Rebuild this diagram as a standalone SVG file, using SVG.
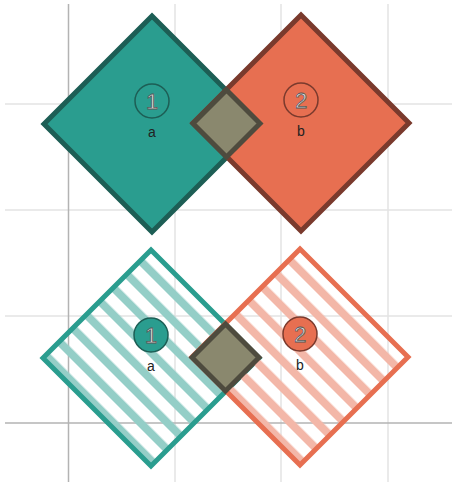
<svg xmlns="http://www.w3.org/2000/svg" width="452" height="482" viewBox="0 0 452 482">
<style>
.grid{stroke:#e3e3e3;stroke-width:1.5;fill:none}
.axis{stroke:#b3b3b3;stroke-width:1.5;fill:none}
.num{font-family:"Liberation Sans",Arial,sans-serif;font-size:22px;fill:#e6e6e6;stroke:#555;stroke-width:0.8;text-anchor:middle}
.lbl{font-family:"Liberation Sans",Arial,sans-serif;font-size:14px;fill:#222;text-anchor:middle}
.ov{fill:#8a886e;stroke:#4e4b3e;stroke-width:5;stroke-linejoin:miter}
</style>
<defs>
<pattern id="stripeA" patternUnits="userSpaceOnUse" width="19.09" height="19.09" y="222.74" patternTransform="rotate(45)">
<rect x="0" y="11.09" width="19.09" height="8" fill="#94cec7"/>
</pattern>
<pattern id="stripeB" patternUnits="userSpaceOnUse" width="19.09" height="19.09" y="116.67" patternTransform="rotate(45)">
<rect x="0" y="11.09" width="19.09" height="8" fill="#f3b7a8"/>
</pattern>
</defs>
<rect width="452" height="482" fill="#ffffff"/>
<g id="grid">
<line class="grid" x1="175" y1="4" x2="175" y2="482"/>
<line class="grid" x1="281" y1="4" x2="281" y2="482"/>
<line class="grid" x1="388" y1="4" x2="388" y2="482"/>
<line class="grid" x1="5" y1="104" x2="452" y2="104"/>
<line class="grid" x1="5" y1="210" x2="452" y2="210"/>
<line class="grid" x1="5" y1="316" x2="452" y2="316"/>
<line class="axis" x1="68.5" y1="4" x2="68.5" y2="482"/>
<line class="axis" x1="5" y1="423" x2="452" y2="423"/>
</g>
<g id="top-a">
<polygon points="152,16 260,124 152,232 44,124" fill="#2a9d8f" stroke="#1d5e55" stroke-width="5"/>
</g>
<g id="top-b">
<polygon points="301,15 409,123 301,231 193,123" fill="#e76f51" stroke="#7a3a2d" stroke-width="5"/>
</g>
<g id="top-overlap">
<polygon class="ov" points="226.5,90 260,123.5 226.5,157 193,123.5"/>
</g>
<g id="top-a-label">
<circle cx="152" cy="101" r="17" fill="none" stroke="#1d5e55" stroke-width="1.5"/>
<text class="num" x="152" y="109">1</text>
<text class="lbl" x="152" y="137">a</text>
</g>
<g id="top-b-label">
<circle cx="301" cy="100" r="17" fill="none" stroke="#7a3a2d" stroke-width="1.5"/>
<text class="num" x="301" y="108">2</text>
<text class="lbl" x="301" y="136">b</text>
</g>
<g id="bottom-a">
<polygon points="151,250 259,358 151,466 43,358" fill="url(#stripeA)" stroke="#2a9d8f" stroke-width="5"/>
</g>
<g id="bottom-b">
<polygon points="300,249 408,357 300,465 192,357" fill="url(#stripeB)" stroke="#e76f51" stroke-width="5"/>
</g>
<g id="bottom-overlap">
<polygon class="ov" points="225.5,324 259,357.5 225.5,391 192,357.5"/>
</g>
<g id="bottom-a-label">
<circle cx="151" cy="335" r="17" fill="#2a9d8f" stroke="#1d5e55" stroke-width="1.5"/>
<text class="num" x="151" y="343">1</text>
<text class="lbl" x="151" y="371">a</text>
</g>
<g id="bottom-b-label">
<circle cx="300" cy="334" r="17" fill="#e76f51" stroke="#7a3a2d" stroke-width="1.5"/>
<text class="num" x="300" y="342">2</text>
<text class="lbl" x="300" y="370">b</text>
</g>
<g id="connectors"/>
</svg>
